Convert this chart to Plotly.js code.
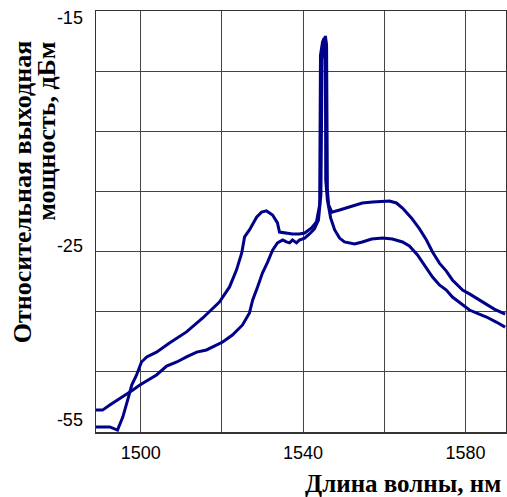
<!DOCTYPE html>
<html>
<head>
<meta charset="utf-8">
<script src="https://cdn.plot.ly/plotly-3.0.1.min.js"></script>
<style>html,body{margin:0;padding:0;background:#fff;}#chart{width:507px;height:497px;}</style>
</head>
<body>
<div id="chart"></div>
<script>
// Curve with the shoulder near 1530 nm
const wavelengthA = [1488.9,1492.4,1494.3,1495.6,1497.0,1497.8,1499.0,1499.8,1500.2,1501.5,1503.9,1507.1,1511.3,1515.3,1519.4,1521.9,1523.6,1524.9,1525.6,1526.8,1527.8,1528.6,1529.8,1531.0,1532.5,1533.7,1534.2,1535.4,1537.4,1539.1,1540.4,1542.1,1543.3,1544.1,1544.2,1544.3,1544.8,1545.2,1545.5,1545.6,1546.0,1546.8,1547.8,1549.0,1550.2,1552.7,1554.6,1556.9,1559.6,1562.0,1564.5,1566.2,1568.2,1569.4,1570.4,1571.9,1573.6,1575.3,1576.8,1579.3,1581.0,1583.4,1585.2,1587.6,1589.8];
const powerA = [-32.29,-32.29,-32.42,-31.88,-31.05,-30.55,-30.13,-29.80,-29.59,-29.38,-29.18,-28.80,-28.34,-27.76,-27.10,-26.47,-25.77,-25.06,-24.39,-24.10,-23.81,-23.56,-23.36,-23.31,-23.48,-23.81,-24.19,-24.23,-24.27,-24.27,-24.23,-24.02,-23.77,-23.06,-19.53,-16.83,-16.29,-16.12,-16.62,-22.03,-22.86,-23.60,-24.10,-24.44,-24.60,-24.68,-24.60,-24.48,-24.44,-24.48,-24.60,-24.77,-25.14,-25.43,-25.68,-26.06,-26.39,-26.60,-26.89,-27.22,-27.43,-27.60,-27.72,-27.93,-28.14];
// Second curve
const wavelengthB = [1488.9,1490.6,1492.4,1493.6,1495.6,1498.0,1499.8,1501.7,1503.9,1506.4,1508.9,1511.3,1513.8,1516.2,1518.7,1520.2,1522.6,1525.1,1526.8,1527.6,1528.8,1530.0,1531.3,1532.5,1533.7,1535.0,1535.9,1536.7,1537.4,1538.4,1539.1,1540.4,1541.6,1542.8,1543.8,1544.4,1544.6,1544.7,1545.1,1545.5,1545.8,1546.0,1546.3,1547.1,1549.0,1551.4,1554.6,1557.1,1559.6,1561.3,1563.0,1564.5,1566.7,1568.7,1570.4,1571.9,1573.6,1575.3,1576.8,1579.3,1581.0,1584.2,1587.1,1589.8];
const powerB = [-31.59,-31.59,-31.38,-31.25,-31.05,-30.76,-30.55,-30.34,-30.13,-29.76,-29.59,-29.38,-29.18,-29.09,-28.88,-28.76,-28.47,-28.05,-27.55,-27.01,-26.47,-25.89,-25.43,-24.94,-24.64,-24.52,-24.60,-24.64,-24.52,-24.64,-24.52,-24.44,-24.27,-24.06,-23.69,-22.65,-18.70,-17.04,-16.41,-16.04,-16.41,-22.44,-23.06,-23.36,-23.27,-23.15,-22.98,-22.94,-22.90,-22.90,-22.98,-23.19,-23.60,-24.06,-24.52,-25.02,-25.48,-25.81,-26.18,-26.60,-26.76,-27.10,-27.39,-27.60];

const xTickVals = [1500,1520,1540,1560,1580];
const xTickText = ['1500','','1540','','1580'];
const yTickVals = [-15.29,-24.77,-32.0];
const yTickText = ['-15','-25','-55'];
const yGridVals = [-17.5,-20,-22.5,-25,-27.5,-30];

const lineStyle = {color:'#000088', width:3};
const traces = [
  {x:wavelengthA, y:powerA, mode:'lines', line:lineStyle, hoverinfo:'none'},
  {x:wavelengthB, y:powerB, mode:'lines', line:lineStyle, hoverinfo:'none'}
];
const tickFont = {family:'Liberation Sans, Arial, sans-serif', size:18, color:'#000'};
const titleFont = {family:'Liberation Serif, Times New Roman, serif', size:26, color:'#000'};
const xTitleFont = {family:'Liberation Serif, Times New Roman, serif', size:25, color:'#000'};
const layout = {
  width:507, height:497,
  margin:{l:96, r:1, t:11, b:65},
  paper_bgcolor:'#fff', plot_bgcolor:'#fff',
  showlegend:false,
  xaxis:{
    range:[1489,1590], tickmode:'array', tickvals:xTickVals, ticktext:xTickText,
    showgrid:true, gridcolor:'#444', gridwidth:1, zeroline:false,
    showline:true, mirror:true, linecolor:'#333', linewidth:1.5,
    ticks:'', tickfont:tickFont, ticklabelstandoff:4
  },
  yaxis:{
    range:[-32.5,-15], tickmode:'array', tickvals:yTickVals, ticktext:yTickText,
    showgrid:false, zeroline:false,
    minor:{tickmode:'array', tickvals:yGridVals, showgrid:true, gridcolor:'#444', gridwidth:1, ticks:''},
    showline:true, mirror:true, linecolor:'#333', linewidth:1.5,
    ticks:'', tickfont:tickFont, ticklabelstandoff:8
  },
  annotations:[
    {text:'<b>Относительная выходная</b>', xref:'paper', yref:'paper', x:-0.180, y:0.570, xanchor:'center', yanchor:'middle', textangle:-90, showarrow:false, font:titleFont},
    {text:'<b>мощность, дБм</b>', xref:'paper', yref:'paper', x:-0.1195, y:0.713, xanchor:'center', yanchor:'middle', textangle:-90, showarrow:false, font:titleFont},
    {text:'<b>Длина волны, нм</b>', xref:'paper', yref:'paper', x:0.992, y:-0.122, xanchor:'right', yanchor:'middle', showarrow:false, font:xTitleFont}
  ]
};
Plotly.newPlot('chart', traces, layout, {staticPlot:true, displayModeBar:false});
</script>
</body>
</html>
